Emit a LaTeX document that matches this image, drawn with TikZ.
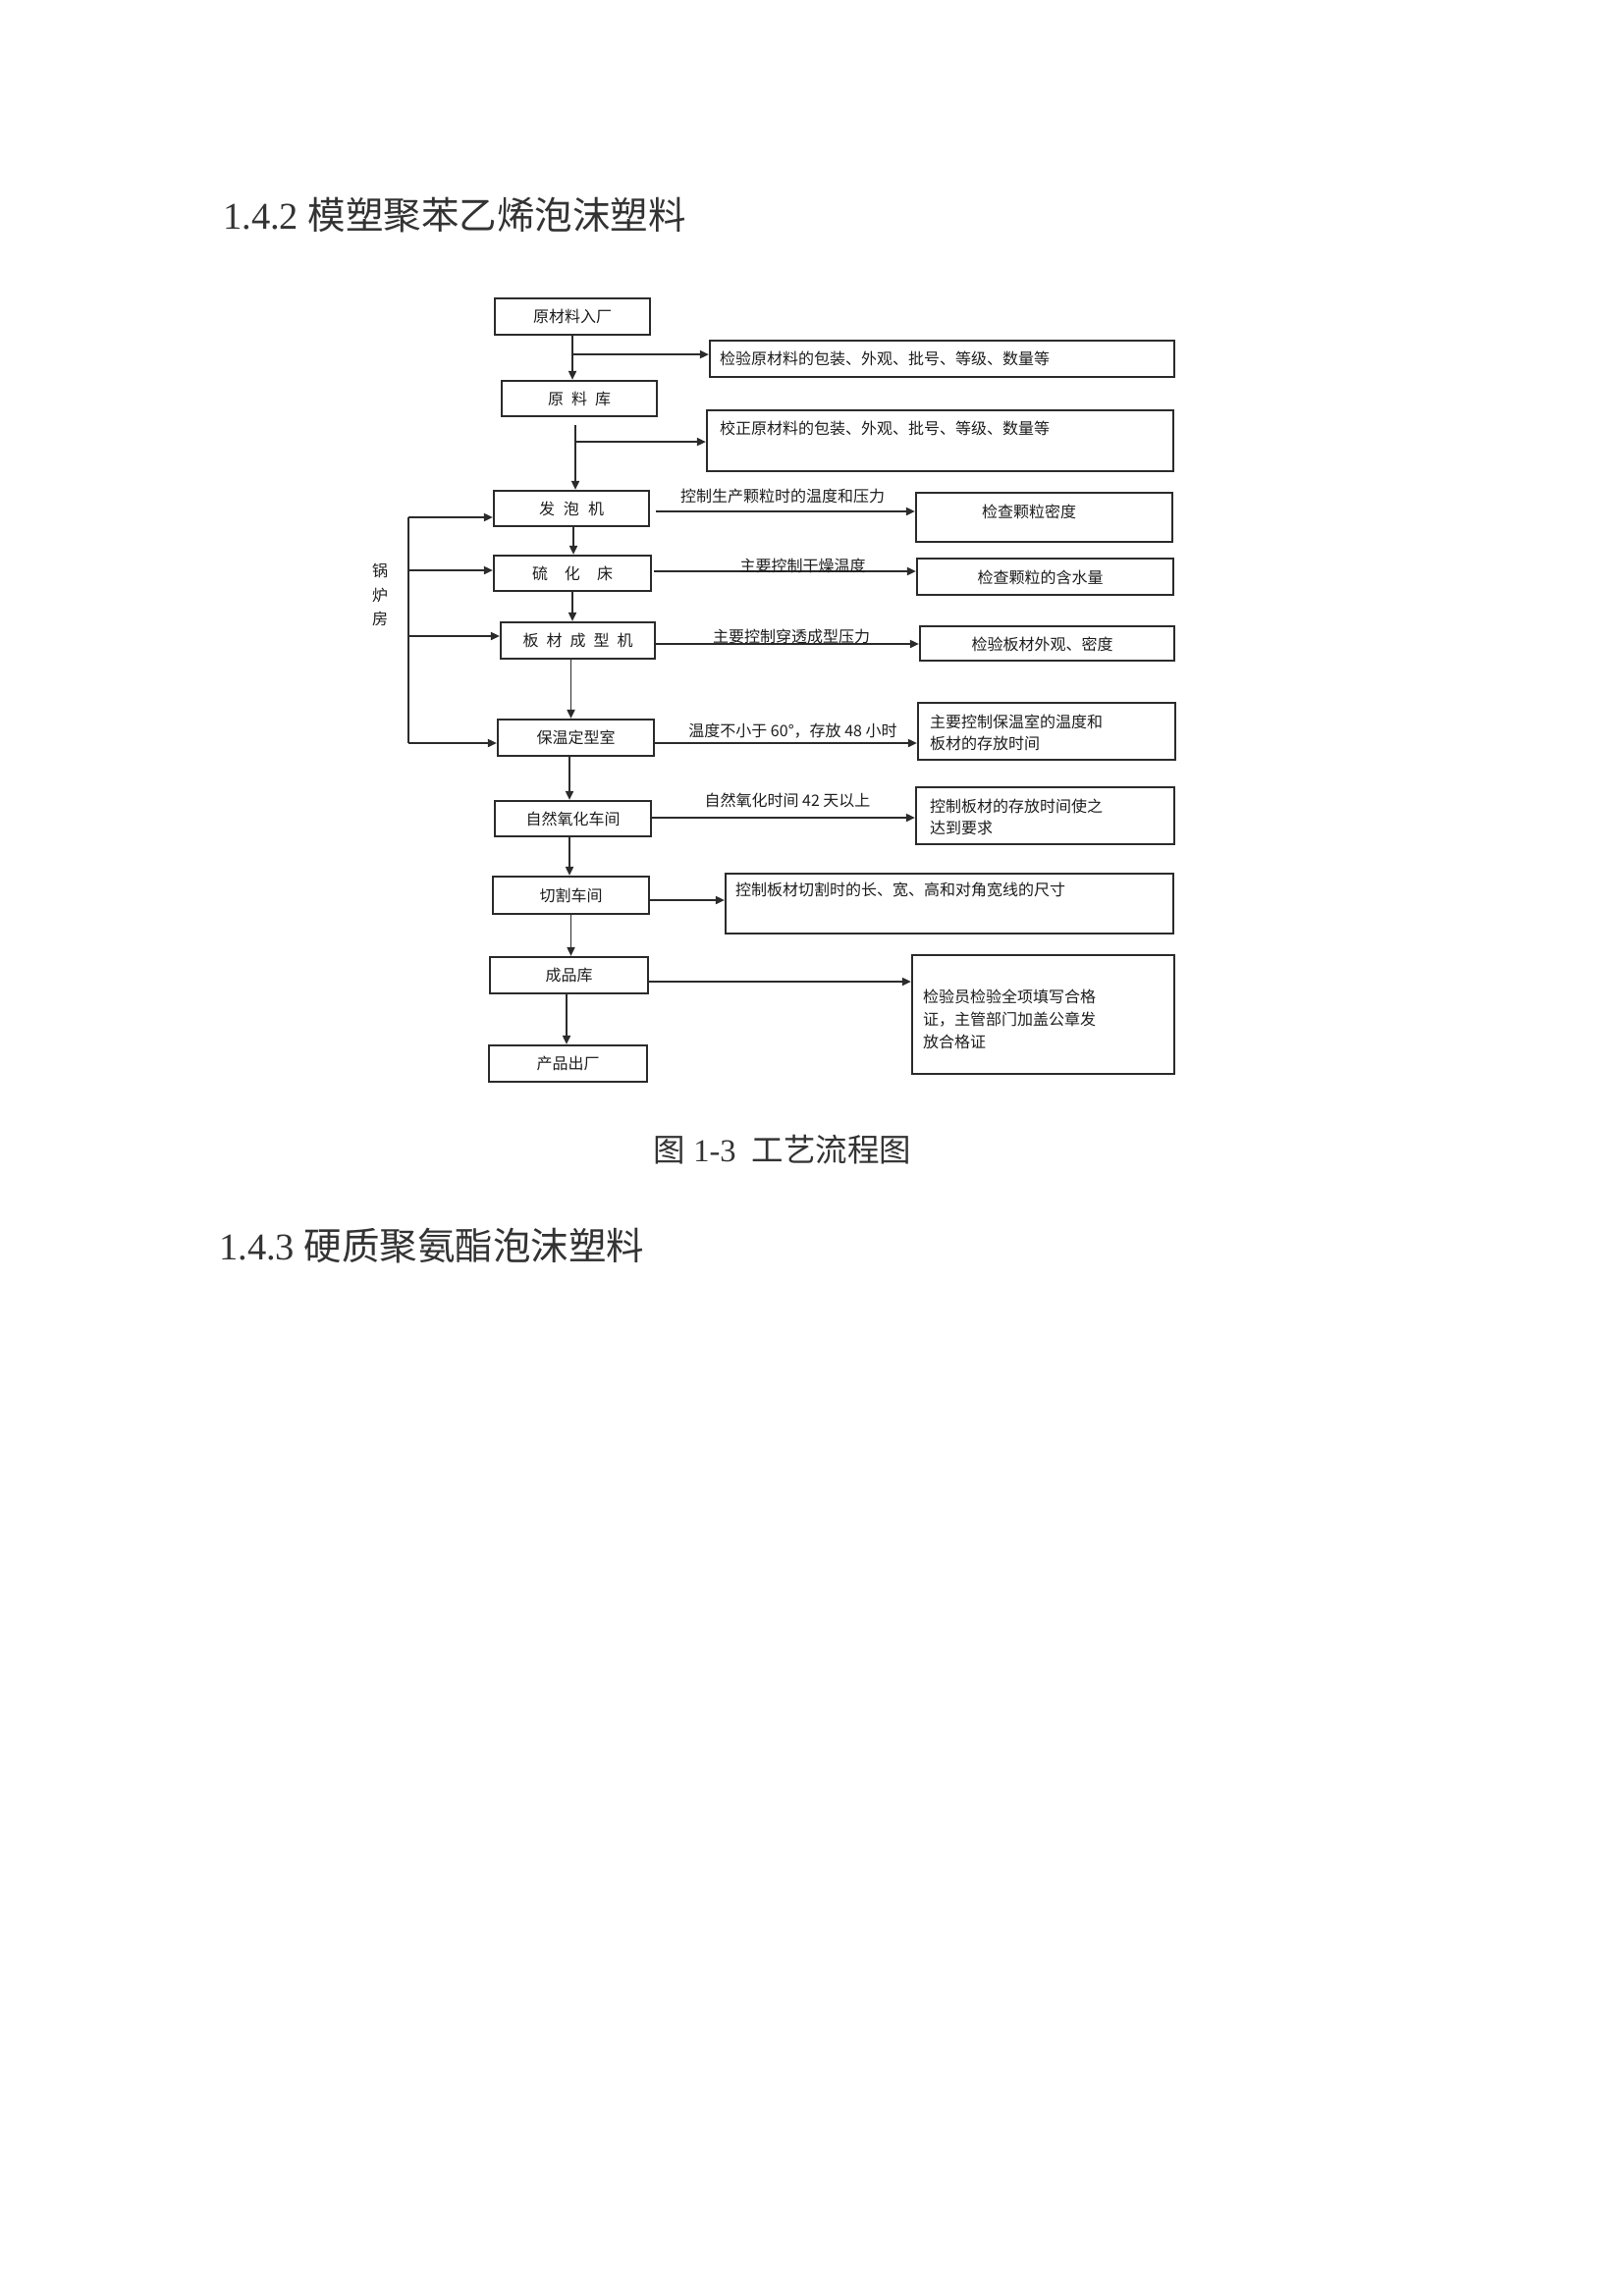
\documentclass[tikz,border=0pt]{standalone}
\usepackage{fontspec}
\setmainfont{Liberation Serif}
\newfontfamily\cjk{Noto Sans CJK SC}
\usetikzlibrary{arrows.meta,calc}
\definecolor{ink}{HTML}{2B2B2B}
\definecolor{txt}{HTML}{1E1E1E}
\definecolor{ttl}{HTML}{333333}
\tikzset{
  box/.style={draw=ink, line width=2.2pt, inner sep=0pt},
  flow/.style={draw=ink, line width=1.8pt, -{Triangle[length=9pt,width=8pt]}},
  plain/.style={draw=ink, line width=1.8pt},
  lbl/.style={font=\cjk\fontsize{16}{22}\selectfont, text=txt, inner sep=0pt},
  heading/.style={font=\fontsize{38.5}{46}\selectfont, text=ttl, inner sep=0pt, anchor=west},
}
\begin{document}
\begin{tikzpicture}[x=1pt,y=-1pt]
\useasboundingbox[fill=white] (0,0) rectangle (1653,2339);

% titles
\node[heading] (t1) at (227,219) {1.4.2 {\cjk 模塑聚苯乙烯泡沫塑料}};
\node[font=\fontsize{32.5}{38}\selectfont, text=ttl, inner sep=0pt] (cap) at (797,1171) {{\cjk 图} 1-3\ \ {\cjk 工艺流程图}};
\node[heading] (t2) at (223,1269) {1.4.3 {\cjk 硬质聚氨酯泡沫塑料}};

% main column
\node[box, lbl, minimum width=158pt, minimum height=37pt] (n1) at (583,322.5) {原材料入厂};
\node[box, lbl, minimum width=158pt, minimum height=36pt] (n2) at (590,406) {原\hspace{8pt}料\hspace{8pt}库};
\node[box, lbl, minimum width=158pt, minimum height=36pt] (n3) at (582,518) {发\hspace{9pt}泡\hspace{9pt}机};
\node[box, lbl, minimum width=160pt, minimum height=36pt] (n4) at (583,584) {硫\hspace{17pt}化\hspace{17pt}床};
\node[box, lbl, minimum width=157pt, minimum height=37pt] (n5) at (588.5,652.5) {板\hspace{8pt}材\hspace{8pt}成\hspace{8pt}型\hspace{8pt}机};
\node[box, lbl, minimum width=159pt, minimum height=37pt] (n6) at (586.5,751.5) {保温定型室};
\node[box, lbl, minimum width=159pt, minimum height=36pt] (n7) at (583.5,834) {自然氧化车间};
\node[box, lbl, minimum width=159pt, minimum height=38pt] (n8) at (581.5,912) {切割车间};
\node[box, lbl, minimum width=161pt, minimum height=37pt] (n9) at (579.5,993.5) {成品库};
\node[box, lbl, minimum width=161pt, minimum height=37pt] (n10) at (578.5,1083.5) {产品出厂};

% right column boxes
\node[box, minimum width=473pt, minimum height=37pt] (r1) at (959.5,365.5) {};
\node[box, minimum width=475pt, minimum height=62pt] (r2) at (957.5,449) {};
\node[box, minimum width=261pt, minimum height=50pt] (r3) at (1063.5,527) {};
\node[box, minimum width=261pt, minimum height=37pt] (r4) at (1064.5,587.5) {};
\node[box, minimum width=259pt, minimum height=35pt] (r5) at (1066.5,655.5) {};
\node[box, minimum width=262pt, minimum height=58pt] (r6) at (1066,745) {};
\node[box, minimum width=263pt, minimum height=58pt] (r7) at (1064.5,831) {};
\node[box, minimum width=456pt, minimum height=61pt] (r8) at (967,920.5) {};
\node[box, minimum width=267pt, minimum height=121pt] (r9) at (1062.5,1033.5) {};

% right box texts
\node[lbl, anchor=west] (r1t) at ($(r1.west)+(11,0)$) {检验原材料的包装、外观、批号、等级、数量等};
\node[lbl, anchor=west] (r2t) at ($(r2.north west)+(14,20)$) {校正原材料的包装、外观、批号、等级、数量等};
\node[lbl] (r3t) at ($(r3.center)+(-15.5,-6)$) {检查颗粒密度};
\node[lbl] (r4t) at ($(r4.center)+(-5,0.5)$) {检查颗粒的含水量};
\node[lbl] (r5t) at ($(r5.center)+(-5,0.5)$) {检验板材外观、密度};
\node[lbl, anchor=west, align=left] (r6t) at ($(r6.west)+(13,1)$) {主要控制保温室的温度和\\板材的存放时间};
\node[lbl, anchor=west, align=left] (r7t) at ($(r7.west)+(15,1)$) {控制板材的存放时间使之\\达到要求};
\node[lbl, anchor=west] (r8t) at ($(r8.north west)+(11,18)$) {控制板材切割时的长、宽、高和对角宽线的尺寸};
\node[lbl, anchor=west, align=left, font=\cjk\fontsize{16}{23}\selectfont] (r9t) at ($(r9.west)+(12,4.5)$) {检验员检验全项填写合格\\证，主管部门加盖公章发\\放合格证};

% boiler room
\node[lbl, align=center, font=\cjk\fontsize{16}{24.5}\selectfont] (guo) at (387,606) {锅\\炉\\房};

% vertical flow
\draw[flow] (n1.south) -- (n1.south |- n2.north);
\coordinate (v2) at ($(n2.south)+(-4,8)$);
\draw[flow] (v2) -- (v2 |- n3.north);
\coordinate (v3) at ($(n3.south)+(2,0)$);
\draw[flow] (v3) -- (v3 |- n4.north);
\draw[flow] (n4.south) -- (n4.south |- n5.north);
\coordinate (v5) at ($(n5.south)+(-7,0)$);
\draw[flow] (v5) -- (v5 |- n6.north);
\coordinate (v6) at ($(n6.south)+(-6.5,0)$);
\draw[flow] (v6) -- (v6 |- n7.north);
\coordinate (v7) at ($(n7.south)+(-3.5,0)$);
\draw[flow] (v7) -- (v7 |- n8.north);
\draw[flow] (n8.south) -- (n8.south |- n9.north);
\coordinate (v9) at ($(n9.south)+(-2.5,0)$);
\draw[flow] (v9) -- (v9 |- n10.north);

% branch arrows to check boxes
\coordinate (b1) at ($(n1.south)+(1,19)$);
\draw[flow] (b1) -- (b1 -| r1.west);
\coordinate (b2) at ($(n2.south)+(-4,25)$);
\draw[flow] (b2) -- (b2 -| r2.west);

% horizontal arrows
\coordinate (a3) at ($(n3.east)+(6,3)$);
\draw[flow] (a3) -- node[lbl, yshift=16pt, xshift=-3pt] {控制生产颗粒时的温度和压力} (a3 -| r3.west);
\coordinate (a4) at ($(n4.east)+(2,-2)$);
\draw[flow] (a4) -- node[lbl, yshift=6pt, xshift=18pt] {主要控制干燥温度} (a4 -| r4.west);
\coordinate (a5) at ($(n5.east)+(0,3.5)$);
\draw[flow] (a5) -- node[lbl, yshift=8pt, xshift=4pt] {主要控制穿透成型压力} (a5 -| r5.west);
\coordinate (a6) at ($(n6.east)+(0,5.5)$);
\draw[flow] (a6) -- node[lbl, yshift=12pt, xshift=7pt] {温度不小于 60°，存放 48 小时} (a6 -| r6.west);
\coordinate (a7) at ($(n7.east)+(0,-1)$);
\draw[flow] (a7) -- node[lbl, yshift=18pt, xshift=4pt] {自然氧化时间 42 天以上} (a7 -| r7.west);
\coordinate (a8) at ($(n8.east)+(0,5)$);
\draw[flow] (a8) -- (a8 -| r8.west);
\coordinate (a9) at ($(n9.east)+(0,6.5)$);
\draw[flow] (a9) -- (a9 -| r9.west);

% boiler room feed lines
\coordinate (L1) at (416,527);
\coordinate (L2) at (416,581);
\coordinate (L3) at (416,648);
\coordinate (L4) at (416,757);
\draw[plain] (L1) -- (L4);
\draw[flow] (L1) -- (L1 -| n3.west);
\draw[flow] (L2) -- (L2 -| n4.west);
\draw[flow] (L3) -- (L3 -| n5.west);
\draw[flow] (L4) -- (L4 -| n6.west);
\end{tikzpicture}
\end{document}
